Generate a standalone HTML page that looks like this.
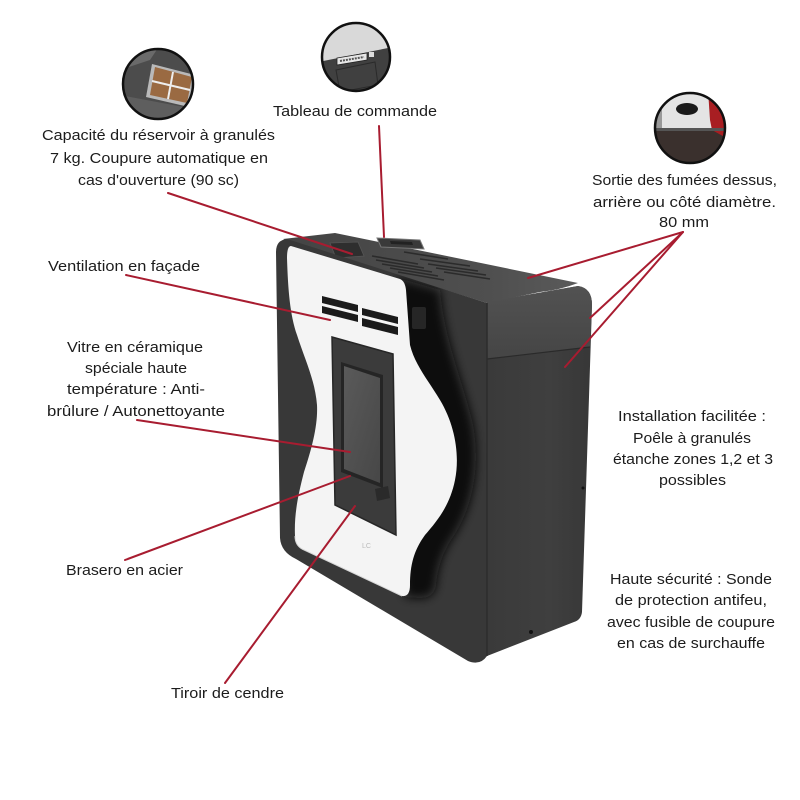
<!DOCTYPE html>
<html><head><meta charset="utf-8"><style>
html,body{margin:0;padding:0;background:#fff;}
svg{display:block;}
text{font-family:"Liberation Sans",sans-serif;font-size:15px;fill:#1c1c1c;}
</style></head><body>
<svg width="800" height="800" viewBox="0 0 800 800" xmlns="http://www.w3.org/2000/svg">
<defs>
<clipPath id="c1"><circle cx="158" cy="84" r="35"/></clipPath>
<clipPath id="c2"><circle cx="356" cy="57" r="34"/></clipPath>
<clipPath id="c3"><circle cx="690" cy="128" r="35"/></clipPath>
<clipPath id="cfront"><path d="M287,239 Q276,240 276,252 L280,538 Q281,552 296,559 L468,661 Q480,666 487,656 L487,303 Z"/></clipPath>
<filter id="blur" x="-30%" y="-30%" width="160%" height="160%"><feGaussianBlur stdDeviation="5"/></filter>
<linearGradient id="gside" x1="0" y1="0" x2="1" y2="0">
<stop offset="0" stop-color="#3a3a3a"/><stop offset="0.6" stop-color="#3f3f3f"/><stop offset="1" stop-color="#373737"/></linearGradient>
<linearGradient id="gsidetop" x1="0" y1="0" x2="0" y2="1">
<stop offset="0" stop-color="#525252"/><stop offset="1" stop-color="#454545"/></linearGradient>
<linearGradient id="gtop" x1="0" y1="0" x2="1" y2="0">
<stop offset="0" stop-color="#444"/><stop offset="0.7" stop-color="#4f4f4f"/><stop offset="1" stop-color="#5a5a5a"/></linearGradient>
<linearGradient id="gglass" x1="0" y1="0" x2="1" y2="1">
<stop offset="0" stop-color="#5a5a5a"/><stop offset="1" stop-color="#474747"/></linearGradient>
</defs>

<!-- circle 1 -->
<g clip-path="url(#c1)">
<rect x="120" y="45" width="80" height="80" fill="#4c4c4c"/>
<polygon points="120,45 160,45 150,60 120,70" fill="#6a6a6a"/>
<polygon points="120,95 200,110 200,125 120,125" fill="#5e5e5e"/>
<polygon points="152,64 195,75 189,107 146,97" fill="#b9b9b9"/>
<polygon points="155,67 192,77 187,103 150,95" fill="#9a6a42"/>
<line x1="173" y1="72" x2="168" y2="99" stroke="#eee" stroke-width="2"/>
<line x1="152" y1="81" x2="190" y2="90" stroke="#eee" stroke-width="2"/>
</g>
<circle cx="158" cy="84" r="35" fill="none" stroke="#111" stroke-width="2.5"/>

<!-- circle 2 -->
<g clip-path="url(#c2)">
<rect x="318" y="20" width="80" height="80" fill="#d9d9d9"/>
<polygon points="318,62 398,46 398,100 318,100" fill="#404040"/>
<polygon points="337,58 367,53 367,60 337,65" fill="#e6e6e6" stroke="#222" stroke-width="0.8"/>
<line x1="340" y1="61" x2="364" y2="57" stroke="#555" stroke-width="2" stroke-dasharray="2,1"/>
<rect x="369" y="52" width="5" height="5" fill="#ddd"/>
<polygon points="336,70 375,62 378,85 340,92" fill="none" stroke="#2a2a2a" stroke-width="1"/>
</g>
<circle cx="356" cy="57" r="34" fill="none" stroke="#111" stroke-width="2.5"/>

<!-- circle 3 -->
<g clip-path="url(#c3)">
<rect x="652" y="90" width="80" height="80" fill="#3a302d"/>
<polygon points="652,90 730,90 730,128 652,128" fill="#e4e4e4"/>
<polygon points="708,90 730,90 730,140 712,130 710,120" fill="#a81e22"/>
<rect x="652" y="100" width="10" height="30" fill="#999"/>
<ellipse cx="687" cy="109" rx="11" ry="6" fill="#1a1a1a"/>
<rect x="652" y="128" width="80" height="3" fill="#555"/>
</g>
<circle cx="690" cy="128" r="35" fill="none" stroke="#111" stroke-width="2.5"/>

<!-- stove: side face -->
<path d="M487,302 L578,286 Q592,288 592,305 L582,612 Q581,620 574,622 L487,656 Z" fill="url(#gside)"/>
<path d="M487,302 L578,286 Q592,288 592,305 L590,347 L487,359 Z" fill="url(#gsidetop)"/>
<line x1="487" y1="359" x2="590" y2="347" stroke="#2a2a2a" stroke-width="1.2"/>
<circle cx="531" cy="632" r="2" fill="#111"/>
<circle cx="583" cy="488" r="1.5" fill="#111"/>

<!-- top face -->
<path d="M283,239 L335,233 L578,283 Q560,290 540,292 L487,303 Z" fill="url(#gtop)"/>
<!-- top vents -->
<g stroke="#2b2b2b" stroke-width="1.6">
<line x1="372" y1="256" x2="418" y2="264"/>
<line x1="376" y1="260" x2="424" y2="268"/>
<line x1="382" y1="264" x2="432" y2="272"/>
<line x1="390" y1="268" x2="438" y2="276"/>
<line x1="398" y1="272" x2="444" y2="280"/>
<line x1="404" y1="252" x2="448" y2="259"/>
<line x1="420" y1="259" x2="470" y2="266"/>
<line x1="428" y1="264" x2="478" y2="271"/>
<line x1="436" y1="268" x2="486" y2="275"/>
<line x1="444" y1="272" x2="490" y2="279"/>
</g>
<!-- control panel & tank lid -->
<polygon points="377,238 420,240 424,249 381,247" fill="#3a3a3a" stroke="#777" stroke-width="1"/>
<polygon points="390,241 412,242 413,245 391,244" fill="#222"/>
<polygon points="330,243 358,242 364,256 336,258" fill="#2e2e2e" stroke="#555" stroke-width="0.8"/>

<!-- front face -->
<path d="M287,239 Q276,240 276,252 L280,538 Q281,552 296,559 L468,661 Q480,666 487,656 L487,303 Z" fill="#383838"/>
<!-- shadow along white panel right edge -->
<g clip-path="url(#cfront)">
<path d="M398,278 L440,290 C444,340 464,385 473,425 C481,470 471,510 453,537 C441,554 437,572 436,585 Q434,598 420,598 L405,597 L398,400 Z" fill="#111" filter="url(#blur)"/>
</g>
<line x1="487" y1="303" x2="487" y2="656" stroke="#2c2c2c" stroke-width="1.5"/>
<!-- knob -->
<rect x="412" y="307" width="14" height="22" rx="2" fill="#262626"/>

<!-- white panel -->
<path d="M291,246 L400,279 Q405,281 406,290 L410,345 C415,365 428,380 440,400 C455,425 460,455 455,480 C450,505 438,520 425,535 C414,550 410,565 410,585 Q410,597 402,596 L302,549 Q295,545 295,536 C294,515 298,495 304,472 C312,448 318,425 317,405 C315,380 305,360 297,335 C290,315 288,290 287,258 Q287,246 291,246 Z" fill="#f4f4f4"/>
<path d="M402,596 L302,549 Q295,545 295,536" fill="none" stroke="#d8d8d8" stroke-width="1"/>

<!-- front vents -->
<g fill="#1a1a1a">
<polygon points="322,296 358,305 358,312 322,303"/>
<polygon points="322,306 358,315 358,322 322,313"/>
<polygon points="362,308 398,317 398,324 362,315"/>
<polygon points="362,318 398,327 398,335 362,326"/>
</g>

<!-- door -->
<polygon points="332,337 393,354 396,535 335,505" fill="#3b3b3b" stroke="#262626" stroke-width="1.5"/>
<polygon points="341,362 383,375 383,488 341,472" fill="#252525"/>
<polygon points="344,366 380,378 380,483 344,469" fill="url(#gglass)"/>
<polygon points="375,489 388,486 390,498 377,501" fill="#2a2a2a"/>
<text x="362" y="548" style="font-size:7px;fill:#bbb">LC</text>

<!-- connectors -->
<g stroke="#a81c30" stroke-width="2" fill="none" stroke-linecap="round">
<line x1="168" y1="193" x2="352" y2="254"/>
<line x1="379" y1="126" x2="384" y2="237"/>
<line x1="126" y1="275" x2="330" y2="320"/>
<line x1="137" y1="420" x2="350" y2="452"/>
<line x1="125" y1="560" x2="350" y2="476"/>
<line x1="225" y1="683" x2="355" y2="506"/>
<line x1="683" y1="232" x2="528" y2="278"/>
<line x1="683" y1="232" x2="590" y2="318"/>
<line x1="683" y1="232" x2="565" y2="367"/>
</g>

<!-- labels -->
<g text-anchor="middle">
<text x="355" y="116" textLength="164" lengthAdjust="spacingAndGlyphs">Tableau de commande</text>
<text x="158.5" y="140" textLength="233" lengthAdjust="spacingAndGlyphs">Capacité du réservoir à granulés</text>
<text x="159" y="163" textLength="218" lengthAdjust="spacingAndGlyphs">7 kg. Coupure automatique en</text>
<text x="158.5" y="185" textLength="161" lengthAdjust="spacingAndGlyphs">cas d'ouverture (90 sc)</text>
<text x="124" y="271" textLength="152" lengthAdjust="spacingAndGlyphs">Ventilation en façade</text>
<text x="135" y="352" textLength="136" lengthAdjust="spacingAndGlyphs">Vitre en céramique</text>
<text x="136" y="373" textLength="102" lengthAdjust="spacingAndGlyphs">spéciale haute</text>
<text x="136" y="394" textLength="138" lengthAdjust="spacingAndGlyphs">température : Anti-</text>
<text x="136" y="416" textLength="178" lengthAdjust="spacingAndGlyphs">brûlure / Autonettoyante</text>
<text x="124.5" y="575" textLength="117" lengthAdjust="spacingAndGlyphs">Brasero en acier</text>
<text x="227.5" y="698" textLength="113" lengthAdjust="spacingAndGlyphs">Tiroir de cendre</text>
<text x="684.5" y="185" textLength="185" lengthAdjust="spacingAndGlyphs">Sortie des fumées dessus,</text>
<text x="684.5" y="207" textLength="183" lengthAdjust="spacingAndGlyphs">arrière ou côté  diamètre.</text>
<text x="684" y="227" textLength="50" lengthAdjust="spacingAndGlyphs">80 mm</text>
<text x="692" y="421" textLength="148" lengthAdjust="spacingAndGlyphs">Installation facilitée :</text>
<text x="692" y="443" textLength="118" lengthAdjust="spacingAndGlyphs">Poêle à granulés</text>
<text x="693" y="464" textLength="160" lengthAdjust="spacingAndGlyphs">étanche zones 1,2 et 3</text>
<text x="692.5" y="485" textLength="67" lengthAdjust="spacingAndGlyphs">possibles</text>
<text x="691" y="584" textLength="162" lengthAdjust="spacingAndGlyphs">Haute sécurité : Sonde</text>
<text x="691" y="605" textLength="152" lengthAdjust="spacingAndGlyphs">de protection antifeu,</text>
<text x="691" y="627" textLength="168" lengthAdjust="spacingAndGlyphs">avec fusible de coupure</text>
<text x="691" y="648" textLength="148" lengthAdjust="spacingAndGlyphs">en cas de surchauffe</text>
</g>
</svg>
</body></html>
